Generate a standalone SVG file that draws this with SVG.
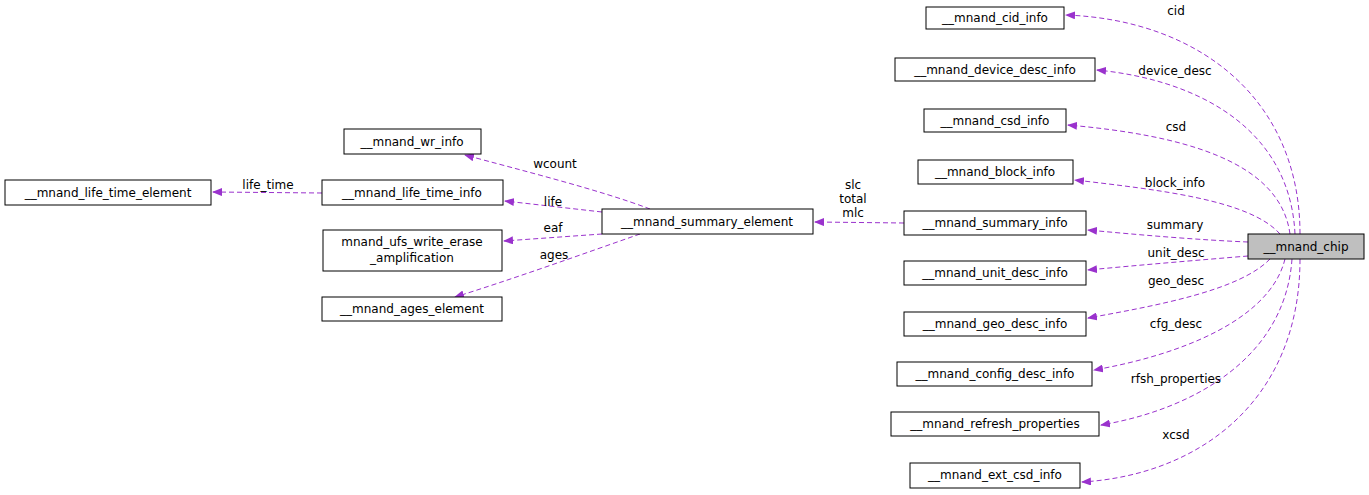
<svg xmlns="http://www.w3.org/2000/svg" width="1369" height="495" viewBox="0 0 1369 495">
<style>
.n rect{fill:#fff;stroke:#000;stroke-width:1}
text{font-family:"DejaVu Sans",sans-serif;font-size:12px;fill:#000}
.n text{text-anchor:middle}
.e path{fill:none;stroke:#9a32cd;stroke-width:1;stroke-dasharray:5,3;marker-end:url(#a)}
.l text{text-anchor:middle}
</style>
<defs><marker id="a" markerWidth="10" markerHeight="8" refX="9" refY="4" orient="auto" markerUnits="userSpaceOnUse"><path d="M0,0L10,4L0,8z" fill="#9a32cd"/></marker></defs>
<rect width="1369" height="495" fill="#fff"/>
<g class="e">
<path d="M1300,234C1300,100 1200,20 1066,15"/>
<path d="M1295,234C1290,130 1200,80 1097,70"/>
<path d="M1290,234C1280,160 1180,135 1068,125"/>
<path d="M1280,234C1250,200 1160,190 1075,180"/>
<path d="M1248,242C1200,240 1140,235 1088,230"/>
<path d="M1248,256C1200,260 1140,265 1088,270"/>
<path d="M1270,259C1240,290 1160,305 1088,318"/>
<path d="M1285,259C1270,320 1180,355 1094,370"/>
<path d="M1292,259C1285,360 1190,410 1101,425"/>
<path d="M1300,259C1300,400 1200,475 1082,482"/>
<path d="M904,223L815,222"/>
<path d="M650,209C600,190 520,170 465,155"/>
<path d="M602,212L505,201"/>
<path d="M602,234L504,241"/>
<path d="M640,234C580,255 510,280 455,297"/>
<path d="M322,193L213,192"/>
</g>
<g class="l">
<text x="1176" y="15">cid</text>
<text x="1175" y="75">device_desc</text>
<text x="1176" y="131">csd</text>
<text x="1175" y="187">block_info</text>
<text x="1175" y="229">summary</text>
<text x="1176" y="257">unit_desc</text>
<text x="1176" y="285">geo_desc</text>
<text x="1176" y="328">cfg_desc</text>
<text x="1176" y="383">rfsh_properties</text>
<text x="1176" y="439">xcsd</text>
<text x="853" y="189">slc</text>
<text x="853" y="203">total</text>
<text x="853" y="217">mlc</text>
<text x="555" y="168">wcount</text>
<text x="553" y="206">life</text>
<text x="553" y="232">eaf</text>
<text x="554" y="259">ages</text>
<text x="268" y="189">life_time</text>
</g>
<g class="n" id="cid"><rect x="926" y="7" width="138" height="22"/><text x="995" y="22">__mnand_cid_info</text></g>
<g class="n" id="dev"><rect x="895" y="58" width="200" height="23"/><text x="995" y="74">__mnand_device_desc_info</text></g>
<g class="n" id="csd"><rect x="924" y="109" width="142" height="23"/><text x="995" y="125">__mnand_csd_info</text></g>
<g class="n" id="blk"><rect x="918" y="160" width="155" height="24"/><text x="995" y="176">__mnand_block_info</text></g>
<g class="n" id="sum"><rect x="904" y="211" width="182" height="24"/><text x="995" y="227">__mnand_summary_info</text></g>
<g class="n" id="unit"><rect x="904" y="261" width="182" height="24"/><text x="995" y="277">__mnand_unit_desc_info</text></g>
<g class="n" id="geo"><rect x="904" y="312" width="182" height="24"/><text x="995" y="328">__mnand_geo_desc_info</text></g>
<g class="n" id="cfg"><rect x="897" y="362" width="195" height="24"/><text x="995" y="378">__mnand_config_desc_info</text></g>
<g class="n" id="rfsh"><rect x="891" y="412" width="208" height="24"/><text x="995" y="428">__mnand_refresh_properties</text></g>
<g class="n" id="ext"><rect x="910" y="463" width="170" height="25"/><text x="995" y="479">__mnand_ext_csd_info</text></g>
<g class="n" id="chip"><rect x="1248" y="234" width="116" height="25" style="fill:#bfbfbf"/><text x="1306" y="251">__mnand_chip</text></g>
<g class="n" id="se"><rect x="602" y="209" width="211" height="25"/><text x="707" y="226">__mnand_summary_element</text></g>
<g class="n" id="wr"><rect x="344" y="129" width="137" height="25"/><text x="412" y="146">__mnand_wr_info</text></g>
<g class="n" id="lti"><rect x="322" y="180" width="181" height="25"/><text x="412" y="197">__mnand_life_time_info</text></g>
<g class="n" id="ufs"><rect x="323" y="230" width="179" height="41"/><text x="412" y="246">mnand_ufs_write_erase</text><text x="412" y="262">_amplification</text></g>
<g class="n" id="ages"><rect x="322" y="297" width="180" height="24"/><text x="412" y="313">__mnand_ages_element</text></g>
<g class="n" id="lte"><rect x="5" y="180" width="206" height="25"/><text x="108" y="197">__mnand_life_time_element</text></g>
</svg>
